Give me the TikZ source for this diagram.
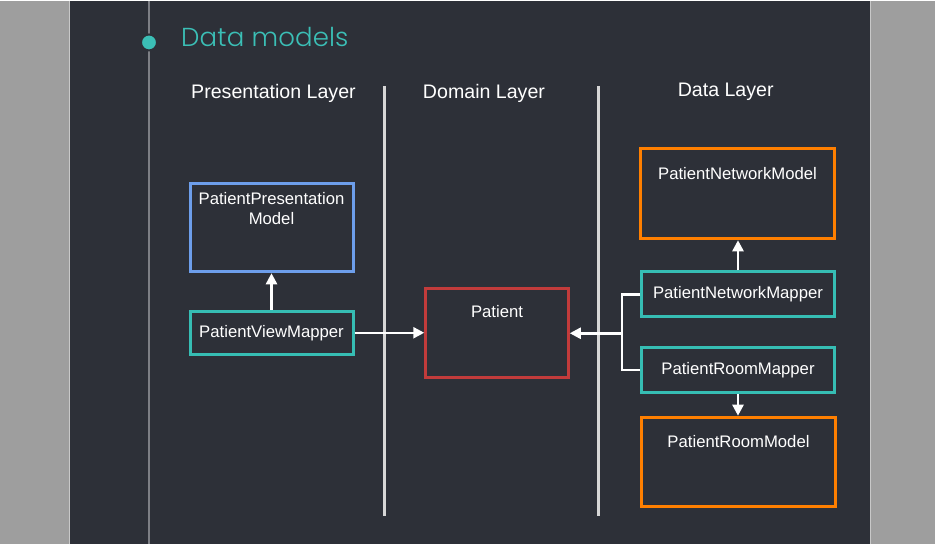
\documentclass[tikz,border=0pt]{standalone}
\usepackage{fontspec}
\setmainfont{Liberation Sans}
\IfFontExistsTF{Poppins Light}
  {\newfontfamily\titlefont{Poppins Light}[LetterSpace=0.5]}
  {\newfontfamily\titlefont{Poppins}}
\usetikzlibrary{arrows.meta,positioning}
\definecolor{slidebg}{HTML}{2D3038}
\definecolor{pagegray}{HTML}{9E9E9E}
\definecolor{edgegray}{HTML}{C8C8C8}
\definecolor{timeline}{HTML}{7D7F85}
\definecolor{accentteal}{HTML}{3BBFB6}
\definecolor{mapperteal}{HTML}{36BDB4}
\definecolor{presblue}{HTML}{6D9EEB}
\definecolor{domainred}{HTML}{C23B3B}
\definecolor{dataorange}{HTML}{FF7F00}
\definecolor{sepgray}{HTML}{D6D6D6}
\tikzset{
  layer title/.style={text=white, inner sep=0pt, anchor=base,
    font=\fontsize{19.6}{22}\selectfont},
  model box/.style={rectangle, draw=#1, line width=3pt,
    minimum width=194pt, minimum height=90pt, inner sep=0pt},
  mapper box/.style={rectangle, draw=mapperteal, line width=3pt,
    minimum width=193pt, minimum height=45pt, inner sep=0pt,
    text=white, font=\fontsize{16.7}{20}\selectfont},
  box text/.style={text=white, inner sep=0pt, align=center,
    font=\fontsize{16.7}{20}\selectfont},
  layer sep/.style={sepgray, line width=2.5pt},
  flow line/.style={white, line width=2.5pt},
  flow arrow/.style={flow line, -{Triangle[length=11pt,width=11pt]}}
}

\begin{document}
\begin{tikzpicture}[x=1pt, y=-1pt]
  % page and slide
  \fill[pagegray] (0,0) rectangle (935,543);
  \fill[slidebg] (70,0) rectangle (870,543);
  \draw[edgegray, line width=1pt] (69.5,0) -- (69.5,543) (870.5,0) -- (870.5,543);

  % timeline with heading
  \draw[timeline, line width=1.5pt] (149,0) -- (149,543);
  \node[circle, fill=accentteal, draw=slidebg, line width=2pt,
    minimum size=16pt, inner sep=0pt] (dot) at (149,41.7) {};
  \node[anchor=base west, inner sep=0pt, text=accentteal,
    font=\titlefont\fontsize{26}{30}\selectfont] (heading) at (181,45.7) {Data models};

  % layers
  \node[layer title] (presLayer) at (273.5,97.5) {Presentation Layer};
  \node[layer title] (domainLayer) at (484,97.8) {Domain Layer};
  \node[layer title] (dataLayer) at (725.7,96.2) {Data Layer};
  \coordinate (sepA top) at (384.7,85);
  \coordinate (sepA bottom) at (384.7,515.5);
  \coordinate (sepB top) at (598.7,85);
  \coordinate (sepB bottom) at (598.7,515);
  \draw[layer sep] (sepA top) -- (sepA bottom);
  \draw[layer sep] (sepB top) -- (sepB bottom);

  % presentation layer
  \node[model box=presblue, minimum width=163pt, minimum height=88pt]
    (presModel) at (271.5,227) {};
  \node[box text, below=10pt of presModel.north] (presModelText)
    {PatientPresentation\\Model};
  \node[mapper box, minimum width=163pt, minimum height=43pt]
    (viewMapper) at (271.5,332) {PatientViewMapper};

  % domain layer
  \node[model box=domainred, minimum width=142.5pt, minimum height=89pt]
    (patient) at (497,332.5) {};
  \node[box text, below=18pt of patient.north] (patientText) {Patient};

  % data layer
  \node[model box=dataorange] (netModel) at (737.5,193) {};
  \node[box text, below=19.5pt of netModel.north] (netModelText) {PatientNetworkModel};
  \node[mapper box] (netMapper) at (738,293.5) {PatientNetworkMapper};
  \node[mapper box, minimum height=44.5pt] (roomMapper) at (738,369.3) {PatientRoomMapper};
  \node[model box=dataorange, minimum height=89.5pt] (roomModel) at (738.5,461.2) {};
  \node[box text, below=19.5pt of roomModel.north] (roomModelText) {PatientRoomModel};

  % connectors
  \coordinate (join) at (622,332.5);
  \draw[flow arrow] (viewMapper.north) -- (presModel.south);
  \draw[flow arrow] (viewMapper.east) -- (viewMapper.east -| patient.west);
  \draw[flow arrow] (netMapper.north) -- (netMapper.north |- netModel.south);
  \draw[flow arrow] (roomMapper.south) -- (roomMapper.south |- roomModel.north);
  \draw[flow line] (netMapper.west) -| (join);
  \draw[flow line] (roomMapper.west) -| (join);
  \draw[flow arrow] (join) -- (patient.east);
\end{tikzpicture}
\end{document}
